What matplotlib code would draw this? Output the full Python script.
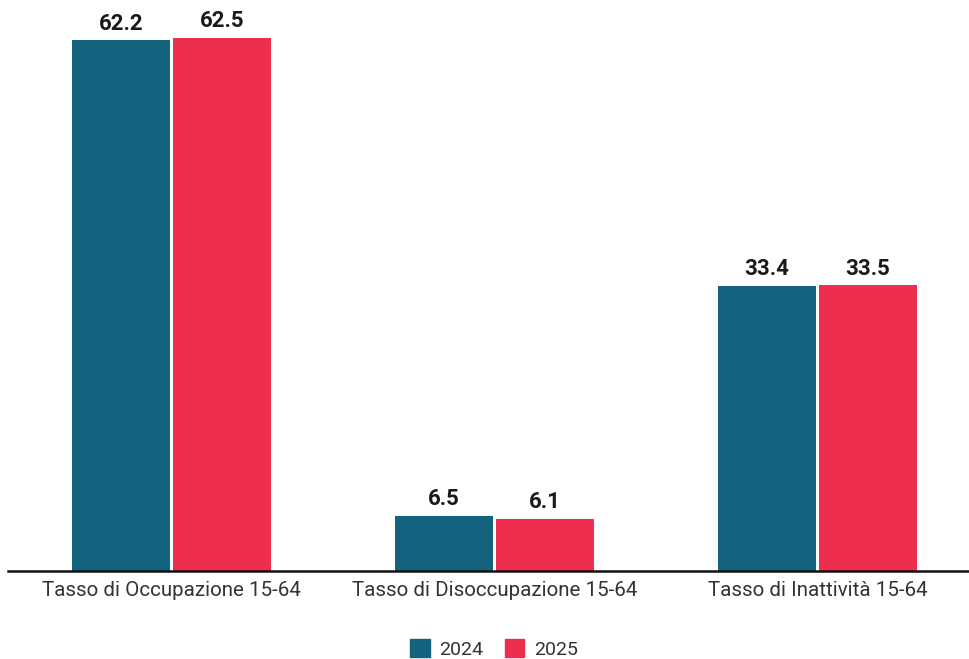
import numpy as np
import matplotlib.pyplot as plt
from matplotlib.patches import Patch

categories = ['Tasso di Occupazione 15-64', 'Tasso di Disoccupazione 15-64', 'Tasso di Inattività 15-64']
series_names = ['2024', '2025']
values_2024 = [62.2, 6.5, 33.4]
values_2025 = [62.5, 6.1, 33.5]
colors = ['#13627e', '#ee2e4e']

plt.rcParams['font.family'] = ['Roboto', 'DejaVu Sans']

fig = plt.figure(figsize=(9.7, 6.59), dpi=100)
ax = fig.add_axes([8 / 970, 88 / 659, 1 - 8 / 970, 1 - 88 / 659])

x = np.arange(len(categories))
width = 0.303
off = 0.156

for vals, name, col, sgn in zip([values_2024, values_2025], series_names, colors, [-1, 1]):
    bars = ax.bar(x + sgn * off, vals, width, color=col, label=name, zorder=2)
    for b, v in zip(bars, vals):
        ax.annotate('%.1f' % v, (b.get_x() + b.get_width() / 2, v),
                    xytext=(0, 4), textcoords='offset points',
                    ha='center', va='bottom', fontsize=16, fontweight='bold', color='#1a1a1a')

ax.set_xlim(-0.506, 2.472)
ax.set_ylim(0, 66.9)
ax.set_yticks([])
ax.set_xticks(x)
ax.set_xticklabels(categories, fontsize=14.8, color='#333333')
ax.tick_params(axis='x', length=0, pad=7)
for s in ['top', 'right', 'left']:
    ax.spines[s].set_visible(False)
ax.spines['bottom'].set_linewidth(1.8)
ax.spines['bottom'].set_color('#111111')
ax.spines['bottom'].set_zorder(3)

handles = [Patch(color=c, label=n) for c, n in zip(colors, series_names)]
fig.legend(handles=handles, loc='center', bbox_to_anchor=(494 / 970, 1 - 649 / 659),
           ncol=2, frameon=False, fontsize=14, handlelength=1.0, handleheight=1.0,
           handletextpad=0.5, columnspacing=1.1, labelcolor='#333333',
           borderpad=0.2)

fig.savefig('out.png', dpi=100)
